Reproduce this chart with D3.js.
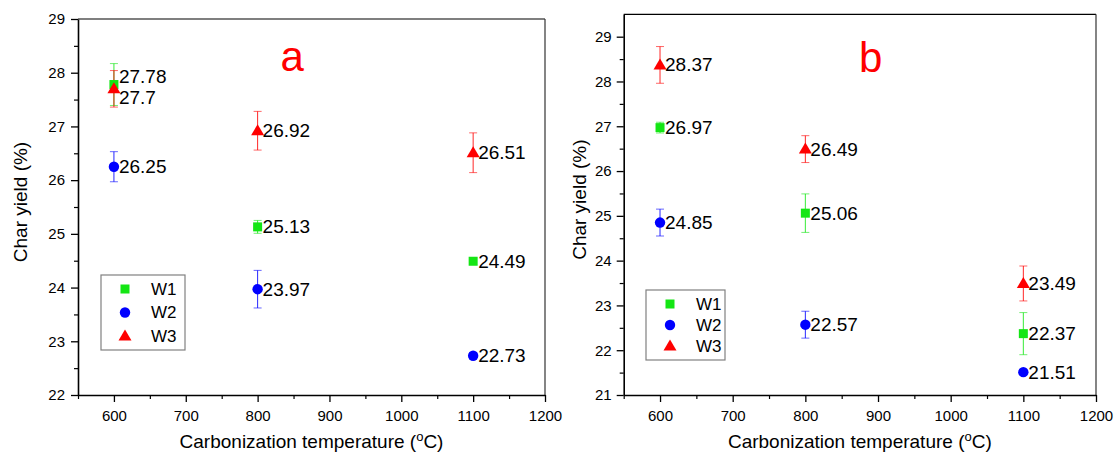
<!DOCTYPE html>
<html>
<head>
<meta charset="utf-8">
<script src="https://cdn.jsdelivr.net/npm/d3@7"></script>
<style>
  body { margin: 0; background: #fff; }
  svg { display: block; }
  text { font-family: Arial, "Liberation Sans", sans-serif; }
</style>
</head>
<body>
<svg id="chart" width="1118" height="457"></svg>
<script>
// ---------- data ----------
const categories = [600, 800, 1100];          // carbonization temperature (°C)
const seriesNames = ["W1", "W2", "W3"];
const seriesColors = ["#14e614", "#0000ff", "#ff0000"];

// panel a
const aW1 = [27.78, 25.13, 24.49];
const aW2 = [26.25, 23.97, 22.73];
const aW3 = [27.7, 26.92, 26.51];
const aW1err = [0.39, 0.12, 0.06];
const aW2err = [0.28, 0.35, 0.06];
const aW3err = [0.34, 0.36, 0.37];

// panel b
const bW1 = [26.97, 25.06, 22.37];
const bW2 = [24.85, 22.57, 21.51];
const bW3 = [28.37, 26.49, 23.49];
const bW1err = [0.12, 0.43, 0.47];
const bW2err = [0.30, 0.30, 0.06];
const bW3err = [0.41, 0.30, 0.39];

const xTicks = [600, 700, 800, 900, 1000, 1100, 1200];
const xMinorTicks = [550, 650, 750, 850, 950, 1050, 1150];
const aYTicks = [22, 23, 24, 25, 26, 27, 28, 29];
const bYTicks = [21, 22, 23, 24, 25, 26, 27, 28, 29];

const xLabel = "Carbonization temperature (";
const yLabel = "Char yield (%)";

// ---------- layout ----------
const svg = d3.select("#chart");
const fmt = d3.format("d");
const panels = [
  { letter: "a", left: 78, right: 545, top: 19, bottom: 395, yDomain: [22, 29],
    yTicks: aYTicks, vals: [aW1, aW2, aW3], errs: [aW1err, aW2err, aW3err],
    letterAt: [848, 28.03], legend: { x: 101, y: 275, w: 84, h: 75 },
    yTitleX: 20, tickPad: 6 },
  { letter: "b", left: 623.7, right: 1096, top: 14.3, bottom: 395, yDomain: [21, 29.5],
    yTicks: bYTicks, vals: [bW1, bW2, bW3], errs: [bW1err, bW2err, bW3err],
    letterAt: [890, 28.21], legend: { x: 646, y: 290, w: 79, h: 70 },
    yTitleX: 579, tickPad: 5 }
];

function drawMarker(g, type, cx, cy, color) {
  if (type === 0) {
    g.append("rect").attr("x", cx - 4.5).attr("y", cy - 4.5)
      .attr("width", 9).attr("height", 9).attr("fill", color);
  } else if (type === 1) {
    g.append("circle").attr("cx", cx).attr("cy", cy).attr("r", 5.2).attr("fill", color);
  } else {
    g.append("path")
      .attr("d", `M${cx},${cy - 6.5}L${cx + 6.5},${cy + 4.5}L${cx - 6.5},${cy + 4.5}Z`)
      .attr("fill", color);
  }
}

panels.forEach(p => {
  const x = d3.scaleLinear().domain([550, 1200]).range([p.left, p.right]);
  const y = d3.scaleLinear().domain(p.yDomain).range([p.bottom, p.top]);
  const g = svg.append("g");

  // frame (top & right)
  g.append("line").attr("x1", p.left).attr("x2", p.right).attr("y1", p.top).attr("y2", p.top)
    .attr("stroke", "#000").attr("stroke-width", 1.2);
  g.append("line").attr("x1", p.right).attr("x2", p.right).attr("y1", p.top).attr("y2", p.bottom)
    .attr("stroke", "#333").attr("stroke-width", 1.2);

  // y minor ticks
  const yMinor = [];
  for (let v = p.yDomain[0] + 0.5; v < p.yDomain[1]; v += 1) yMinor.push(v);
  g.append("g").attr("transform", `translate(${p.left},0)`)
    .call(d3.axisLeft(y).tickValues(yMinor).tickSize(4).tickFormat(""))
    .call(a => a.select(".domain").remove())
    .selectAll("line").attr("stroke-width", 1.2);

  // x minor ticks
  g.append("g").attr("transform", `translate(0,${p.bottom})`)
    .call(d3.axisBottom(x).tickValues(xMinorTicks).tickSize(4).tickFormat(""))
    .call(a => a.select(".domain").remove())
    .selectAll("line").attr("stroke-width", 1.2);

  // y axis
  const ya = g.append("g").attr("transform", `translate(${p.left},0)`)
    .call(d3.axisLeft(y).tickValues(p.yTicks).tickFormat(fmt).tickSize(7)
      .tickPadding(p.tickPad).tickSizeOuter(0));
  ya.select(".domain").attr("stroke-width", 1.6);
  ya.selectAll("line").attr("stroke-width", 1.3);
  ya.selectAll("text").attr("font-size", 15).attr("fill", "#000")
    .attr("font-family", "Arial, 'Liberation Sans', sans-serif");

  // x axis
  const xa = g.append("g").attr("transform", `translate(0,${p.bottom})`)
    .call(d3.axisBottom(x).tickValues(xTicks).tickFormat(fmt).tickSize(7)
      .tickPadding(8).tickSizeOuter(0));
  xa.select(".domain").attr("stroke-width", 1.6);
  xa.selectAll("line").attr("stroke-width", 1.3);
  xa.selectAll("text").attr("font-size", 15).attr("fill", "#000")
    .attr("font-family", "Arial, 'Liberation Sans', sans-serif");

  // axis titles
  const xt = g.append("text").attr("x", (p.left + p.right) / 2).attr("y", 448)
    .attr("text-anchor", "middle").attr("font-size", 19).attr("fill", "#000");
  xt.append("tspan").text(xLabel);
  xt.append("tspan").attr("font-size", 13).attr("dy", -7).text("o");
  xt.append("tspan").attr("dy", 7).text("C)");

  g.append("text")
    .attr("transform", `translate(${p.yTitleX},${(p.top + p.bottom) / 2 - 5}) rotate(-90)`)
    .attr("text-anchor", "middle").attr("dominant-baseline", "central")
    .attr("font-size", 19).attr("fill", "#000").text(yLabel);

  // panel letter
  g.append("text").attr("x", x(p.letterAt[0])).attr("y", y(p.letterAt[1]))
    .attr("text-anchor", "middle").attr("font-size", 42).attr("fill", "#ff0000").text(p.letter);

  // error bars + markers
  const labels = [];
  p.vals.forEach((vals, si) => {
    const color = seriesColors[si];
    vals.forEach((v, i) => {
      const cx = x(categories[i]);
      const e = p.errs[si][i];
      const y1 = y(v + e), y2 = y(v - e);
      g.append("line").attr("x1", cx).attr("x2", cx).attr("y1", y1).attr("y2", y2)
        .attr("stroke", color).attr("stroke-width", 1).attr("stroke-opacity", 0.85);
      [y1, y2].forEach(yy => g.append("line").attr("x1", cx - 4).attr("x2", cx + 4)
        .attr("y1", yy).attr("y2", yy).attr("stroke", color).attr("stroke-width", 1)
        .attr("stroke-opacity", 0.6));
      labels.push({ cx, cy: y(v), ly: y(v), text: String(v), si });
    });
  });
  p.vals.forEach((vals, si) => {
    vals.forEach((v, i) => drawMarker(g, si, x(categories[i]), y(v), seriesColors[si]));
  });

  // value labels with simple collision avoidance
  const minGap = 21;
  d3.groups(labels, d => d.cx).forEach(([, grp]) => {
    grp.sort((a, b) => a.cy - b.cy);
    for (let k = 1; k < grp.length; k++) {
      const gap = grp[k].ly - grp[k - 1].ly;
      if (gap < minGap) {
        const d = (minGap - gap) / 2;
        grp[k - 1].ly -= d;
        grp[k].ly += d;
      }
    }
  });
  labels.forEach(l => {
    g.append("text").attr("x", l.cx + 5).attr("y", l.ly)
      .attr("dominant-baseline", "central").attr("font-size", 19).attr("fill", "#000")
      .text(l.text);
  });

  // legend
  const L = p.legend;
  g.append("rect").attr("x", L.x).attr("y", L.y).attr("width", L.w).attr("height", L.h)
    .attr("fill", "#fff").attr("stroke", "#808080").attr("stroke-width", 1.2);
  seriesNames.forEach((name, si) => {
    const ry = L.y + 14 + si * (L.h - 28) / 2;
    drawMarker(g, si, L.x + 24, ry, seriesColors[si]);
    g.append("text").attr("x", L.x + 50).attr("y", ry).attr("dominant-baseline", "central")
      .attr("font-size", 17).attr("fill", "#000").text(name);
  });
});
</script>
</body>
</html>
